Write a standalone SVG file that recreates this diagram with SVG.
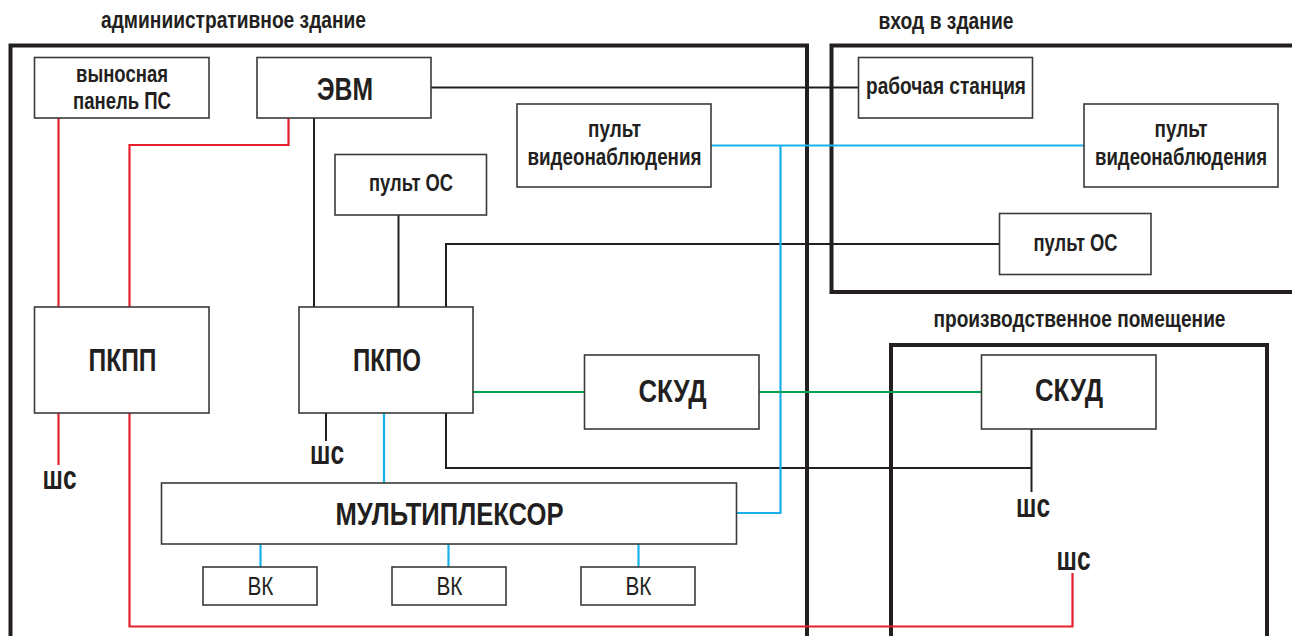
<svg xmlns="http://www.w3.org/2000/svg" width="1292" height="636" viewBox="0 0 1292 636">
<style>
text{font-family:'Liberation Sans Narrow','Liberation Sans',Arial,sans-serif;fill:#231f20;text-anchor:middle}
.s{font-size:23px;font-weight:bold}
.b{font-size:32px;font-weight:bold}
.w{font-size:33px;font-weight:bold}
.v{font-size:25px;font-weight:normal}
.frame{fill:none;stroke:#231f20;stroke-width:4}
.box{fill:#fff;stroke:#3a3a3a;stroke-width:1.6}
.k{fill:none;stroke:#231f20;stroke-width:2}
.r{fill:none;stroke:#e5202a;stroke-width:2.2}
.c{fill:none;stroke:#1ab0ec;stroke-width:2.2}
.g{fill:none;stroke:#00a14f;stroke-width:2.2}
</style>
<rect width="1292" height="636" fill="#fff"/>
<g id="zones">
<rect class="frame" x="10.5" y="45.5" width="796.5" height="610"/>
<rect class="frame" x="831.5" y="45.5" width="480" height="246.5"/>
<rect class="frame" x="891" y="345" width="376" height="320"/>
<text class="s" x="233.5" y="28" textLength="265" lengthAdjust="spacingAndGlyphs">админиистративное здание</text>
<text class="s" x="946" y="28.5" textLength="135" lengthAdjust="spacingAndGlyphs">вход в здание</text>
<text class="s" x="1079.5" y="327" textLength="292" lengthAdjust="spacingAndGlyphs">производственное помещение</text>
</g>
<g id="connectors">
<path class="r" d="M58.5,118 V307"/>
<path class="r" d="M288.5,118 V145 H129.5 V307"/>
<path class="r" d="M58.5,413 V465"/>
<path class="r" d="M129.5,413 V626.5 H1072.5 V573"/>
<path class="k" d="M431,87.5 H858"/>
<path class="k" d="M314,118 V307"/>
<path class="k" d="M398.5,215 V307"/>
<path class="k" d="M446,307 V244 H999"/>
<path class="k" d="M326,413 V441"/>
<path class="k" d="M446,413 V468 H1031.5"/>
<path class="k" d="M1031.5,429 V492"/>
<path class="c" d="M711,145.5 H1084"/>
<path class="c" d="M780.5,145.5 V513 H736"/>
<path class="c" d="M384,413 V483"/>
<path class="c" d="M260.5,544 V567"/>
<path class="c" d="M448.5,544 V567"/>
<path class="c" d="M638.5,544 V567"/>
<path class="g" d="M473,392 H584"/>
<path class="g" d="M759,392 H981"/>
</g>
<g id="vynosnaya-panel">
<rect class="box" x="34.5" y="57.5" width="174.5" height="60.5"/>
<text class="s" x="122" y="81.5" textLength="92" lengthAdjust="spacingAndGlyphs">выносная</text>
<text class="s" x="122" y="108.5" textLength="98" lengthAdjust="spacingAndGlyphs">панель ПС</text>
</g>
<g id="evm">
<rect class="box" x="257" y="57.5" width="174" height="60.5"/>
<text class="b" x="345" y="99.5" textLength="56" lengthAdjust="spacingAndGlyphs">ЭВМ</text>
</g>
<g id="pult-os-admin">
<rect class="box" x="335" y="154.5" width="151.5" height="60.5"/>
<text class="s" x="411" y="191" textLength="84" lengthAdjust="spacingAndGlyphs">пульт ОС</text>
</g>
<g id="pult-video-admin">
<rect class="box" x="517" y="104" width="194" height="83"/>
<text class="s" x="614.5" y="137" textLength="53" lengthAdjust="spacingAndGlyphs">пульт</text>
<text class="s" x="614.5" y="165" textLength="174" lengthAdjust="spacingAndGlyphs">видеонаблюдения</text>
</g>
<g id="rabochaya-stanciya">
<rect class="box" x="858.5" y="57.5" width="174" height="60.5"/>
<text class="s" x="946" y="94" textLength="160" lengthAdjust="spacingAndGlyphs">рабочая станция</text>
</g>
<g id="pult-video-entrance">
<rect class="box" x="1084" y="104" width="194" height="83"/>
<text class="s" x="1181" y="137" textLength="53" lengthAdjust="spacingAndGlyphs">пульт</text>
<text class="s" x="1181" y="165" textLength="172" lengthAdjust="spacingAndGlyphs">видеонаблюдения</text>
</g>
<g id="pult-os-entrance">
<rect class="box" x="999.5" y="213.5" width="151.5" height="61"/>
<text class="s" x="1075.5" y="250.5" textLength="84" lengthAdjust="spacingAndGlyphs">пульт ОС</text>
</g>
<g id="pkpp">
<rect class="box" x="34.5" y="307" width="174.5" height="106"/>
<text class="b" x="122.5" y="371" textLength="68" lengthAdjust="spacingAndGlyphs">ПКПП</text>
</g>
<g id="pkpo">
<rect class="box" x="299" y="307" width="174" height="106"/>
<text class="b" x="387" y="371" textLength="68" lengthAdjust="spacingAndGlyphs">ПКПО</text>
</g>
<g id="skud-admin">
<rect class="box" x="584.5" y="355" width="174.5" height="74"/>
<text class="b" x="672.5" y="401.5" textLength="68" lengthAdjust="spacingAndGlyphs">СКУД</text>
</g>
<g id="skud-prod">
<rect class="box" x="981.5" y="355" width="174.5" height="74"/>
<text class="b" x="1069" y="401" textLength="68" lengthAdjust="spacingAndGlyphs">СКУД</text>
</g>
<g id="multiplexor">
<rect class="box" x="161.5" y="483" width="575" height="61"/>
<text class="b" x="449.5" y="525" textLength="228" lengthAdjust="spacingAndGlyphs">МУЛЬТИПЛЕКСОР</text>
</g>
<g id="vk1">
<rect class="box" x="203" y="567" width="114" height="38"/>
<text class="v" x="260.5" y="595" textLength="26" lengthAdjust="spacingAndGlyphs">ВК</text>
</g>
<g id="vk2">
<rect class="box" x="392" y="567" width="114" height="38"/>
<text class="v" x="449.5" y="595" textLength="26" lengthAdjust="spacingAndGlyphs">ВК</text>
</g>
<g id="vk3">
<rect class="box" x="581" y="567" width="114" height="38"/>
<text class="v" x="638.5" y="595" textLength="26" lengthAdjust="spacingAndGlyphs">ВК</text>
</g>
<g id="shs-labels">
<text class="w" x="59.5" y="489" textLength="34" lengthAdjust="spacingAndGlyphs">шс</text>
<text class="w" x="327" y="463.5" textLength="34" lengthAdjust="spacingAndGlyphs">шс</text>
<text class="w" x="1033" y="516.5" textLength="34" lengthAdjust="spacingAndGlyphs">шс</text>
<text class="w" x="1073.5" y="569.5" textLength="34" lengthAdjust="spacingAndGlyphs">шс</text>
</g>
</svg>
